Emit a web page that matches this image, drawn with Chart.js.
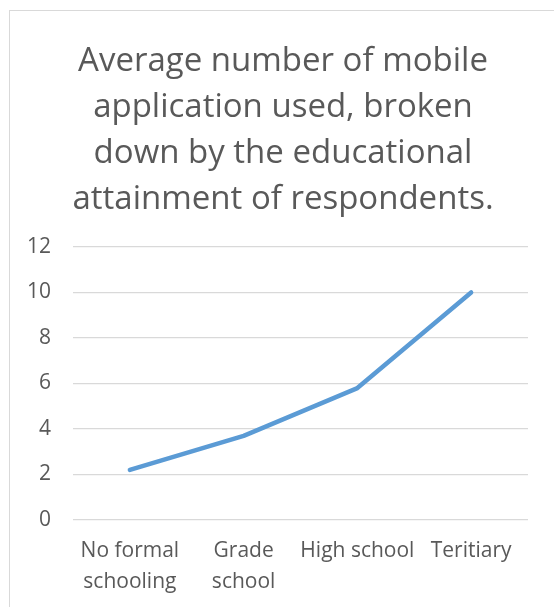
<!DOCTYPE html>
<html>
<head>
<meta charset="utf-8">
<script src="https://cdn.jsdelivr.net/npm/chart.js@4"></script>
<style>
  html, body { margin: 0; padding: 0; background: #fff; }
  #wrap { position: relative; width: 554px; height: 607px; overflow: hidden; }
  #frame { position: absolute; left: 9px; top: 10px; width: 600px; height: 700px; border-left: 1px solid #d9d9d9; border-top: 1px solid #d9d9d9; box-sizing: border-box; }
  canvas { position: absolute; left: 0; top: 0; }
</style>
</head>
<body>
<div id="wrap">
  <div id="frame"></div>
  <canvas id="c" width="554" height="607"></canvas>
</div>
<script>
const titleLines = ["Average number of mobile", "application used, broken", "down by the educational", "attainment of respondents."];
const categories = [["No formal", "schooling"], ["Grade", "school"], "High school", "Teritiary"];
const averageApps = [2.2, 3.7, 5.8, 10.0];
const yTicks = [0, 2, 4, 6, 8, 10, 12];

const FONT = "'Open Sans', 'Liberation Sans', sans-serif";
const GREY = '#595959';

// The title in the reference is centred on the whole chart frame (which starts at x=9),
// slightly right of the canvas centre; nudge the title block accordingly.
const shiftTitle = {
  id: 'shiftTitle',
  afterLayout(chart) {
    const t = chart.titleBlock;
    if (t) { t.left += 19; t.right += 19; }
  }
};

new Chart(document.getElementById('c'), {
  type: 'line',
  data: {
    labels: categories,
    datasets: [{
      data: averageApps,
      borderColor: '#5B9BD5',
      backgroundColor: '#5B9BD5',
      borderWidth: 4.5,
      pointRadius: 0,
      tension: 0,
      borderCapStyle: 'round',
      borderJoinStyle: 'round'
    }]
  },
  plugins: [shiftTitle],
  options: {
    responsive: false,
    animation: false,
    devicePixelRatio: 1,
    layout: { padding: { top: 39, left: 0, right: 26, bottom: 0 } },
    plugins: {
      legend: { display: false },
      tooltip: { enabled: false },
      title: {
        display: true,
        text: titleLines,
        color: GREY,
        font: { family: FONT, size: 33, weight: 'normal', lineHeight: 1.394 },
        padding: { top: 0, bottom: 24 }
      }
    },
    scales: {
      x: {
        offset: true,
        grid: { display: false, drawTicks: false },
        border: { display: false },
        ticks: { color: GREY, font: { family: FONT, size: 21, lineHeight: 1.45 }, padding: 16, maxRotation: 0, autoSkip: false },
        afterFit: s => { s.height = 87; }
      },
      y: {
        min: 0, max: 12,
        afterBuildTicks: s => { s.ticks = yTicks.map(v => ({ value: v })); },
        grid: { color: '#d9d9d9', lineWidth: 1.3, drawTicks: false },
        border: { display: false },
        ticks: { color: GREY, font: { family: FONT, size: 21 }, padding: 22 },
        afterFit: s => { s.width = 73; }
      }
    }
  }
});
</script>
</body>
</html>
